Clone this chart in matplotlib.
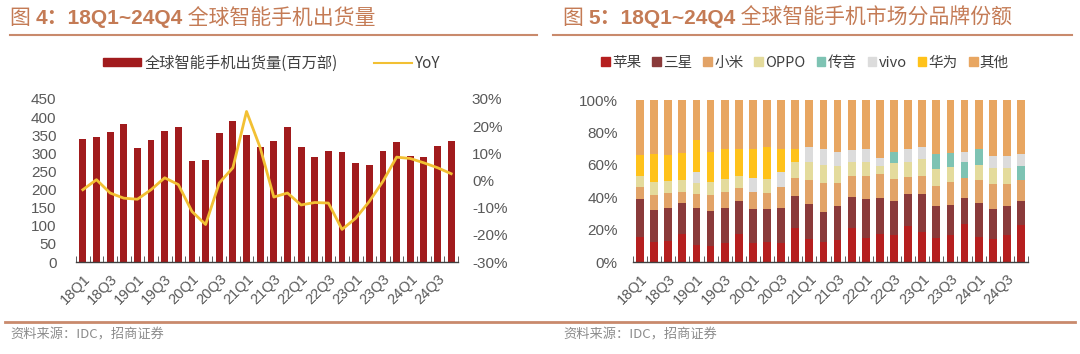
import numpy as np
import matplotlib
matplotlib.use("Agg")
import matplotlib.pyplot as plt
from matplotlib.patches import Patch
from matplotlib.lines import Line2D

## Daten
quarters = ["18Q1", "18Q2", "18Q3", "18Q4", "19Q1", "19Q2", "19Q3", "19Q4",
            "20Q1", "20Q2", "20Q3", "20Q4", "21Q1", "21Q2", "21Q3", "21Q4",
            "22Q1", "22Q2", "22Q3", "22Q4", "23Q1", "23Q2", "23Q3", "23Q4",
            "24Q1", "24Q2", "24Q3", "24Q4"]

shipments = [339, 346, 360, 380, 314, 337, 363, 374, 279, 282, 357, 390, 350, 317,
             335, 372, 317, 291, 307, 304, 272, 268, 306, 330, 293, 289, 319, 335]
yoy = [-3.4, 0.3, -4.6, -6.5, -6.9, -3.4, 1.0, -1.5, -11.4, -16.2, -0.9, 4.7, 25.4, 12.1,
       -6.1, -4.6, -9.0, -8.1, -8.3, -18.0, -13.9, -7.7, -0.3, 8.6, 8.1, 6.5, 4.7, 2.5]

brands = ["苹果", "三星", "小米", "OPPO", "传音", "vivo", "华为", "其他"]
apple = [15.5, 12.5, 13, 17.5, 10.5, 10, 12, 17.5, 11.5, 12.5, 11.5, 21, 14.5, 12.5,
         13.5, 21, 15, 17.4, 16.8, 22.5, 18.3, 14.6, 16.7, 23.3, 15.6, 14.2, 16.7, 23]
samsung = [23.1, 19.5, 20.3, 18.7, 23, 21.5, 21.5, 20, 21, 20, 22, 19.5, 21.5, 18.5,
           21, 19, 24, 21.9, 21.1, 19.5, 23.4, 19.8, 18.7, 16.3, 20.9, 18.7, 17.7, 14.9]
xiaomi = [7.8, 9.5, 9.5, 7.2, 8.5, 10, 10, 8, 11, 10, 13, 11.5, 14.5, 18,
          14.5, 13, 14, 15, 13.3, 10.5, 11.4, 12.5, 14.2, 12.5, 13.9, 15, 13.5, 12.9]
oppo = [6.8, 8, 7, 7, 7, 8, 7.5, 7.5, 0, 9, 0, 10, 11, 11,
        10.5, 8.5, 8.5, 5.2, 9.9, 9, 10.4, 10.4, 9.2, 0, 9.6, 10, 10, 0]
transsion = [0, 0, 0, 0, 0, 0, 0, 0, 0, 0, 0, 0, 0, 0,
             0, 0, 0, 0, 6.5, 0, 0, 9.4, 8.3, 9.4, 9.8, 0, 0, 8.2]
vivo = [0, 0, 0, 0, 6.5, 0, 0, 0, 8.5, 0, 9, 0, 9.5, 9.5,
        8.5, 7.5, 8, 5, 0, 8.5, 7.3, 0, 0, 6.2, 0, 7.7, 7.7, 7.6]
huawei = [12.8, 17, 16.2, 17, 20, 18.5, 19, 17, 18, 19.5, 14, 8, 0, 0,
          0, 0, 0, 0, 0, 0, 0, 0, 0, 0, 0, 0, 0, 0]

shares = np.array([apple, samsung, xiaomi, oppo, transsion, vivo, huawei], dtype=float)
others = 100 - shares.sum(axis=0)
shares = np.vstack([shares, others])

brand_colors = ["#B51F1F", "#8A3A3A", "#E2A367", "#E4DB9C", "#7EC3B3", "#DCDCDC", "#FFC21A", "#E8A661"]

## Stil
cjk = ["Noto Sans CJK SC", "DejaVu Sans"]
num = ["Liberation Sans", "Noto Sans CJK SC"]
title_col = "#C47B55"
line_col = "#C98A6C"
tick_col = "#595959"

fig = plt.figure(figsize=(10.8, 3.54), dpi=100)
W, H = 1080, 354
x = np.arange(len(quarters))


def fx(px):
    return px / W


def fy(py):
    return 1 - py / H


def title(x0, parts):
    r = fig.canvas.get_renderer()
    xpos = fx(x0)
    for txt, bold in parts:
        t = fig.text(xpos, fy(18), txt, fontsize=15, color=title_col, va="center",
                     family=num if bold else cjk, fontweight="bold" if bold else "normal")
        bb = t.get_window_extent(renderer=r)
        xpos = bb.x1 / W


def style_xaxis(ax):
    for s in ["top", "left", "right"]:
        ax.spines[s].set_visible(False)
    ax.spines["bottom"].set_color("#404040")
    ax.spines["bottom"].set_linewidth(1.0)
    ax.set_xlim(-0.5, len(quarters) - 0.5)
    ax.set_xticks(x[::2])
    ax.set_xticklabels(quarters[::2], rotation=45, ha="right", rotation_mode="anchor",
                       family=num, fontsize=10.5, color=tick_col)
    ax.set_xticks(np.arange(-0.5, len(quarters), 1), minor=True)
    ax.tick_params(axis="x", which="major", length=0, pad=7)
    ax.tick_params(axis="x", which="minor", length=4, direction="in", color="#404040")


## Bild 4: Absatz
ax1 = fig.add_axes([fx(76), fy(262), fx(458 - 76), (262 - 99) / H])
ax1.bar(x, shipments, width=0.5, color="#A11B1D", zorder=2)
ax1.set_ylim(0, 450)
ax1.set_yticks(np.arange(0, 451, 50))
ax1.tick_params(axis="y", length=0, pad=14, labelsize=11, labelcolor=tick_col)
for lab in ax1.get_yticklabels():
    lab.set_family(num)
style_xaxis(ax1)

ax1r = ax1.twinx()
ax1r.plot(x, yoy, color="#F2C033", lw=2, zorder=3)
ax1r.set_ylim(-30, 30)
ax1r.set_yticks(np.arange(-30, 31, 10))
ax1r.set_yticklabels([f"{v}%" for v in range(-30, 31, 10)], family=num)
ax1r.tick_params(axis="y", length=0, pad=10, labelsize=11, labelcolor=tick_col)
for s in ["top", "left", "right", "bottom"]:
    ax1r.spines[s].set_visible(False)

h1 = [Patch(color="#A11B1D"), Line2D([], [], color="#F2C033", lw=1.5)]
fig.legend(h1, ["全球智能手机出货量(百万部)", "YoY"], loc="center", ncol=2,
           bbox_to_anchor=(fx(272), fy(63)), frameon=False, handlelength=2.5,
           handleheight=0.5, handletextpad=0.2, columnspacing=2.4,
           prop={"family": cjk, "size": 11}, labelcolor="#404040")

## Bild 5: Marktanteile
ax2 = fig.add_axes([fx(633), fy(262), fx(1028 - 633), (262 - 100) / H])
bottom = np.zeros(len(quarters))
for i, name in enumerate(brands):
    ax2.bar(x, shares[i], width=0.55, bottom=bottom, color=brand_colors[i], label=name, zorder=2)
    bottom += shares[i]
ax2.set_ylim(0, 100)
ax2.set_yticks(np.arange(0, 101, 20))
ax2.set_yticklabels([f"{v}%" for v in range(0, 101, 20)], family=num)
ax2.tick_params(axis="y", length=0, pad=11, labelsize=11, labelcolor=tick_col)
style_xaxis(ax2)

h2 = [Patch(color=c) for c in brand_colors]
fig.legend(h2, brands, loc="center", ncol=8, bbox_to_anchor=(fx(805), fy(63)),
           frameon=False, handlelength=0.6, handleheight=0.6, handletextpad=0.15,
           columnspacing=0.75, prop={"family": cjk, "size": 10.5}, labelcolor="#404040")

## Titel, Linien, Quelle
title(10, [("图 ", False), ("4：18Q1~24Q4", True), (" 全球智能手机出货量", False)])
title(563, [("图 ", False), ("5：18Q1~24Q4", True), (" 全球智能手机市场分品牌份额", False)])

fig.add_artist(Line2D([fx(10), fx(537)], [fy(35), fy(35)], color=line_col, lw=1.5))
fig.add_artist(Line2D([fx(553), fx(1072)], [fy(35), fy(35)], color=line_col, lw=1.5))
fig.add_artist(Line2D([fx(5), fx(1075)], [fy(322), fy(322)], color=line_col, lw=2))

fig.text(fx(10), fy(335), "资料来源：IDC，招商证券", fontsize=9.5, color="#8C8C8C",
         va="center", family=cjk)
fig.text(fx(563), fy(335), "资料来源：IDC，招商证券", fontsize=9.5, color="#8C8C8C",
         va="center", family=cjk)

fig.savefig("out.png", dpi=100)
